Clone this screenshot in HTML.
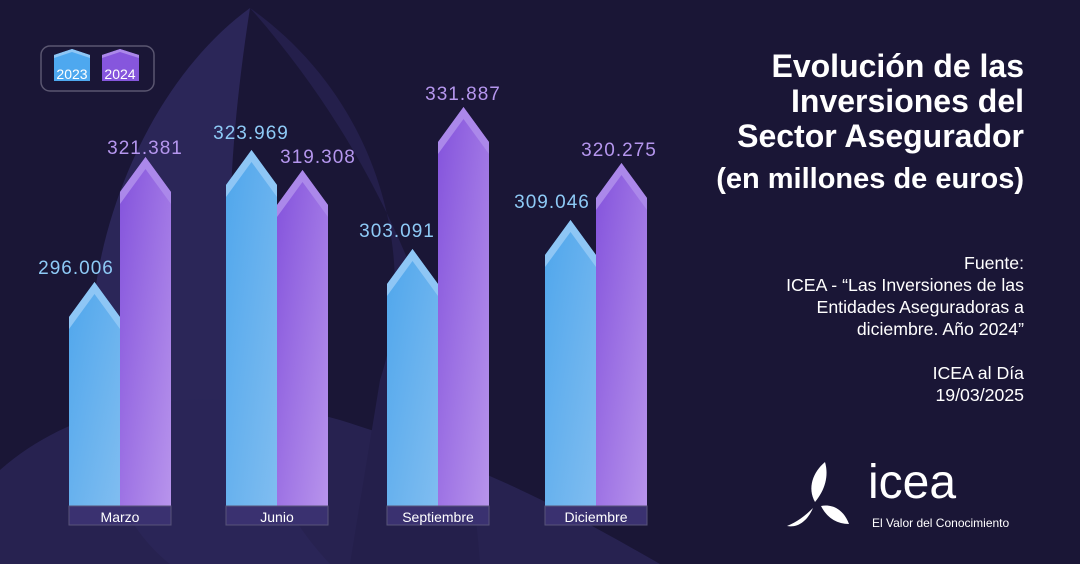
<!DOCTYPE html>
<html><head><meta charset="utf-8"><style>
body{margin:0;width:1080px;height:564px;overflow:hidden;background:#1a1636;font-family:"Liberation Sans","DejaVu Sans",sans-serif}
.t{position:absolute;right:56px;text-align:right;color:#fff}
</style></head><body>
<svg width="1080" height="564" style="position:absolute;left:0;top:0">
<defs>
<linearGradient id="gb" x1="0" y1="0" x2="1" y2="1"><stop offset="0" stop-color="#4fa6ec"/><stop offset="1" stop-color="#80bdf0"/></linearGradient>
<linearGradient id="gp" x1="0" y1="0" x2="1" y2="1"><stop offset="0" stop-color="#8352dc"/><stop offset="1" stop-color="#b894ec"/></linearGradient>
</defs>
<path d="M250 8 C150 80 70 250 95 420 C110 500 140 540 170 564 L330 564 C250 480 200 330 250 8Z" fill="#2b2658"/>
<path d="M0 470 C80 400 200 380 340 420 C500 470 600 530 660 564 L0 564Z" fill="#2b2658" opacity="0.8"/>
<path d="M250 8 C380 100 420 260 380 380 L350 564 L480 564 C470 420 420 200 250 8Z" fill="#241f4b"/>
<rect x="41" y="46" width="113" height="45" rx="9" fill="none" stroke="#5a5670" stroke-width="1.5"/>
<path d="M54 55 L72 49 L90 55 L90 81 L54 81Z" fill="#4ea8ef"/><path d="M54 55 L72 49 L90 55 L90 58 L72 52 L54 58Z" fill="#8ec6f5"/>
<path d="M102 55 L120 49 L139 55 L139 81 L102 81Z" fill="#8656dd"/><path d="M102 55 L120 49 L139 55 L139 58 L120 52 L102 58Z" fill="#ab88ea"/>
<text x="72" y="79" fill="#fff" font-size="14" text-anchor="middle">2023</text>
<text x="120" y="79" fill="#fff" font-size="14" text-anchor="middle">2024</text>
<g id="bars"></g>
</svg>
<div class="t" style="top:49px;font-size:32px;font-weight:bold;line-height:35px">Evolución de las<br>Inversiones del<br>Sector Asegurador</div>
<div class="t" style="top:163px;font-size:29px;font-weight:bold">(en millones de euros)</div>
<div class="t" style="top:252px;font-size:17.7px;line-height:22px">Fuente:<br>ICEA - “Las Inversiones de las<br>Entidades Aseguradoras a<br>diciembre. Año 2024”<br><br>ICEA al Día<br>19/03/2025</div>
<svg width="90" height="80" style="position:absolute;left:785px;top:458px" viewBox="0 0 90 80">
<path d="M40 4 C28 14 22 30 30 44 C40 32 44 18 40 4Z" fill="#fff"/>
<path d="M36 48 C46 46 58 50 64 66 C52 66 42 60 36 48Z" fill="#fff"/>
<path d="M28 50 C20 58 12 64 2 68 C12 70 22 64 28 50Z" fill="#fff"/>
</svg>
<div style="position:absolute;left:868px;top:458px;color:#fff;font-size:48px;line-height:50px">icea</div>
<div style="position:absolute;left:872px;top:516px;color:#fff;font-size:12px">El Valor del Conocimiento</div>
<script>
var bars=[[69,282,'296.006','b',76,274],[120,157,'321.381','p',145,154],[226,150,'323.969','b',251,139],[277,170,'319.308','p',318,163],[387,249,'303.091','b',397,237],[438,107,'331.887','p',463,100],[545,220,'309.046','b',552,208],[596,163,'320.275','p',619,156]];
var s='',t='';
bars.forEach(function(b){var x=b[0],w=51,p=b[1],sh=p+35,c=x+w/2;
s+='<path d="M'+x+' '+sh+' L'+c+' '+p+' L'+(x+w)+' '+sh+' L'+(x+w)+' 506 L'+x+' 506Z" fill="url(#g'+b[3]+')"/>';
s+='<path d="M'+x+' '+sh+' L'+c+' '+p+' L'+(x+w)+' '+sh+' L'+(x+w)+' '+(sh+12)+' L'+c+' '+(p+12)+' L'+x+' '+(sh+12)+'Z" fill="'+(b[3]=='b'?'#8ec6f5':'#ab88ea')+'"/>';
t+='<text x="'+b[4]+'" y="'+b[5]+'" fill="'+(b[3]=='b'?'#8ecaf6':'#b596ee')+'" font-size="19" text-anchor="middle" letter-spacing="1">'+b[2]+'</text>';});
[[69,'Marzo'],[226,'Junio'],[387,'Septiembre'],[545,'Diciembre']].forEach(function(l){
s+='<rect x="'+l[0]+'" y="506" width="102" height="19" fill="#3a3170" stroke="#58547a"/><text x="'+(l[0]+51)+'" y="522" fill="#fff" font-size="14" text-anchor="middle">'+l[1]+'</text>';});
document.getElementById('bars').innerHTML=s+t;
</script>
</body></html>
